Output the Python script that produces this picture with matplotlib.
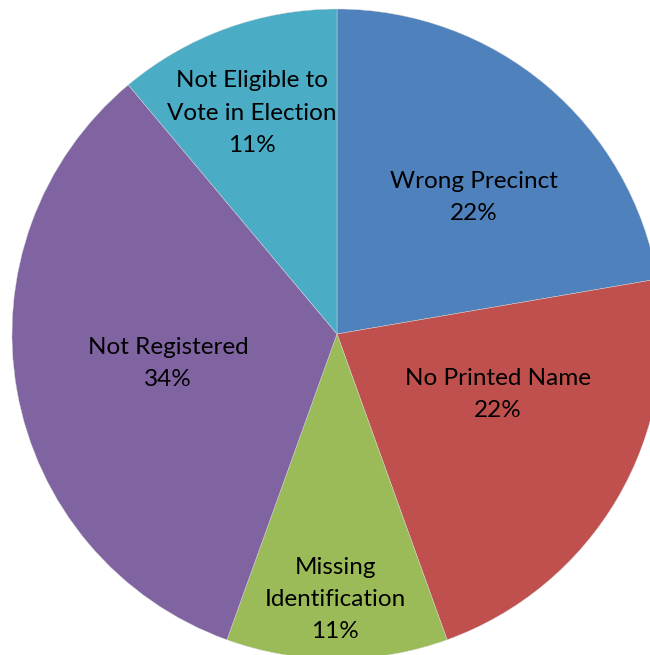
import matplotlib
matplotlib.use('Agg')
import matplotlib.pyplot as plt

# slice data, clockwise from 12 o'clock
categories = ['Wrong Precinct', 'No Printed Name', 'Missing\nIdentification',
              'Not Registered', 'Not Eligible to\nVote in Election']
values = [22.3, 22.2, 11.0, 33.4, 11.1]
pct_labels = ['22%', '22%', '11%', '34%', '11%']
colors = ['#4F81BD', '#C0504D', '#9BBB59', '#8064A2', '#4BACC6']
# label positions in pie units (center 0,0 radius 1)
label_pos = [(0.42, 0.42), (0.495, -0.185), (-0.006, -0.818), (-0.52, -0.09), (-0.262, 0.68)]

fig = plt.figure(figsize=(6.5, 6.55), dpi=100)
ax = fig.add_axes([0, 0, 1, 1])
ax.pie(values, colors=colors, startangle=90, counterclock=False, radius=1,
       wedgeprops=dict(edgecolor='#d8d8d8', linewidth=0.3))
for cat, pct, (x, y) in zip(categories, pct_labels, label_pos):
    ax.text(x, y, cat + '\n' + pct, ha='center', va='center', fontsize=17.5,
            family='Lato', linespacing=1.65, color='black')

ax.set_xlim(-337 / 325, (650 - 337) / 325)
ax.set_ylim(-(655 - 334) / 325, 334 / 325)
ax.set_aspect('auto')
ax.axis('off')
fig.savefig('out.png', dpi=100)
